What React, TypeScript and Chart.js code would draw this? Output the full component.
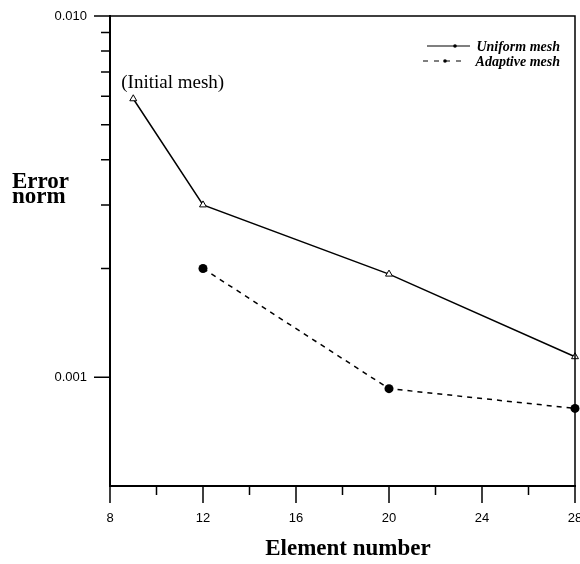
import React, { useEffect, useRef } from "react";
import { Chart, registerables } from "chart.js";

Chart.register(...registerables);

const uniformX = [9, 12, 20, 28];
const uniformY = [0.0059, 0.003, 0.00193, 0.00114];
const adaptiveX = [12, 20, 28];
const adaptiveY = [0.002, 0.00093, 0.00082];

const xMajorTicks = [8, 12, 16, 20, 24, 28];
const xMinorTicks = [10, 14, 18, 22, 26];
const yMajorTicks = [0.001, 0.01];
const yMajorLabels = ["0.001", "0.010"];
const yMinorTicks = [0.002, 0.003, 0.004, 0.005, 0.006, 0.007, 0.008, 0.009];

const seriesNames = ["Uniform mesh", "Adaptive mesh"];
const xTitle = "Element number";
const yTitleLines = ["Error", "norm"];
const annotation = "(Initial mesh)";

const SERIF = '"Liberation Serif", "Times New Roman", serif';
const SANS = '"Liberation Sans", Arial, sans-serif';

const decorPlugin = {
  id: "decor",
  afterDraw(chart: any) {
    const ctx = chart.ctx as CanvasRenderingContext2D;
    const a = chart.chartArea;
    const xs = chart.scales.x;
    const ys = chart.scales.y;
    ctx.save();
    ctx.strokeStyle = "#000";
    // box top & right
    ctx.lineWidth = 1.5;
    ctx.beginPath();
    ctx.moveTo(a.left, a.top);
    ctx.lineTo(a.right, a.top);
    ctx.lineTo(a.right, a.bottom);
    ctx.stroke();
    // ticks
    ctx.lineWidth = 1.5;
    ctx.beginPath();
    yMajorTicks.forEach((v) => {
      const y = ys.getPixelForValue(v);
      ctx.moveTo(a.left - 16, y);
      ctx.lineTo(a.left, y);
    });
    yMinorTicks.forEach((v) => {
      const y = ys.getPixelForValue(v);
      ctx.moveTo(a.left - 9, y);
      ctx.lineTo(a.left, y);
    });
    xMajorTicks.forEach((v) => {
      const x = xs.getPixelForValue(v);
      ctx.moveTo(x, a.bottom);
      ctx.lineTo(x, a.bottom + 17);
    });
    xMinorTicks.forEach((v) => {
      const x = xs.getPixelForValue(v);
      ctx.moveTo(x, a.bottom);
      ctx.lineTo(x, a.bottom + 9);
    });
    ctx.stroke();

    ctx.fillStyle = "#000";
    // x title
    ctx.font = `bold 23px ${SERIF}`;
    ctx.textAlign = "center";
    ctx.textBaseline = "alphabetic";
    ctx.fillText(xTitle, 348, 555);
    // y title
    ctx.font = `bold 23px ${SERIF}`;
    ctx.textAlign = "left";
    ctx.fillText(yTitleLines[0], 12, 188);
    ctx.fillText(yTitleLines[1], 12, 203);
    // annotation near first uniform point
    const px = xs.getPixelForValue(uniformX[0]);
    const py = ys.getPixelForValue(uniformY[0]);
    ctx.font = `19px ${SERIF}`;
    ctx.fillText(annotation, px - 12, py - 11);

    // legend
    ctx.font = `italic bold 14px ${SERIF}`;
    ctx.textAlign = "right";
    ctx.fillText(seriesNames[0], 560, 51);
    ctx.fillText(seriesNames[1], 560, 66);
    ctx.lineWidth = 1.2;
    ctx.beginPath();
    ctx.moveTo(427, 46);
    ctx.lineTo(470, 46);
    ctx.stroke();
    ctx.beginPath();
    ctx.arc(455, 46, 1.8, 0, Math.PI * 2);
    ctx.fill();
    ctx.setLineDash([5, 6]);
    ctx.beginPath();
    ctx.moveTo(423, 61);
    ctx.lineTo(465, 61);
    ctx.stroke();
    ctx.setLineDash([]);
    ctx.beginPath();
    ctx.arc(445, 61, 1.8, 0, Math.PI * 2);
    ctx.fill();
    ctx.restore();
  },
};

export default function App() {
  const ref = useRef<HTMLCanvasElement | null>(null);
  useEffect(() => {
    if (!ref.current) return;
    const chart = new Chart(ref.current, {
      type: "line",
      data: {
        datasets: [
          {
            label: seriesNames[0],
            data: uniformX.map((x, i) => ({ x, y: uniformY[i] })),
            borderColor: "#000",
            borderWidth: 1.5,
            pointStyle: "triangle",
            pointRadius: 4,
            pointBackgroundColor: "#fff",
            pointBorderColor: "#000",
            pointBorderWidth: 1,
            clip: false as any,
          },
          {
            label: seriesNames[1],
            data: adaptiveX.map((x, i) => ({ x, y: adaptiveY[i] })),
            borderColor: "#000",
            borderWidth: 1.5,
            borderDash: [5, 5],
            pointStyle: "circle",
            pointRadius: 4.5,
            pointBackgroundColor: "#000",
            pointBorderColor: "#000",
            pointBorderWidth: 0,
            clip: false as any,
          },
        ],
      },
      options: {
        animation: false,
        responsive: false,
        maintainAspectRatio: false,
        layout: { padding: { top: 16, right: 5, left: 0, bottom: 0 } },
        plugins: {
          legend: { display: false },
          tooltip: { enabled: false },
        },
        scales: {
          x: {
            type: "linear",
            min: 8,
            max: 28,
            afterBuildTicks: (s: any) => {
              s.ticks = xMajorTicks.map((v) => ({ value: v }));
            },
            afterFit: (s: any) => {
              s.height = 78;
              s.paddingLeft = 0;
              s.paddingRight = 0;
            },
            ticks: {
              padding: 25,
              color: "#000",
              maxRotation: 0,
              autoSkip: false,
              font: { family: SANS, size: 13 },
            },
            grid: { display: false, drawTicks: false },
            border: { display: true, color: "#000", width: 2 },
          },
          y: {
            type: "logarithmic",
            min: 0.0005,
            max: 0.01,
            afterBuildTicks: (s: any) => {
              s.ticks = yMajorTicks.map((v) => ({ value: v }));
            },
            afterFit: (s: any) => {
              s.width = 110;
              s.paddingTop = 0;
              s.paddingBottom = 0;
            },
            ticks: {
              padding: 23,
              color: "#000",
              autoSkip: false,
              font: { family: SANS, size: 13 },
              callback: (v: any) => {
                const i = yMajorTicks.findIndex((t) => Math.abs(t - Number(v)) < 1e-9);
                return i >= 0 ? yMajorLabels[i] : "";
              },
            },
            grid: { display: false, drawTicks: false },
            border: { display: true, color: "#000", width: 2 },
          },
        },
      },
      plugins: [decorPlugin],
    });
    return () => chart.destroy();
  }, []);
  return (
    <div style={{ position: "absolute", left: 0, top: 0, width: 580, height: 564, background: "#fff" }}>
      <canvas ref={ref} width={580} height={564} style={{ display: "block" }} />
    </div>
  );
}
